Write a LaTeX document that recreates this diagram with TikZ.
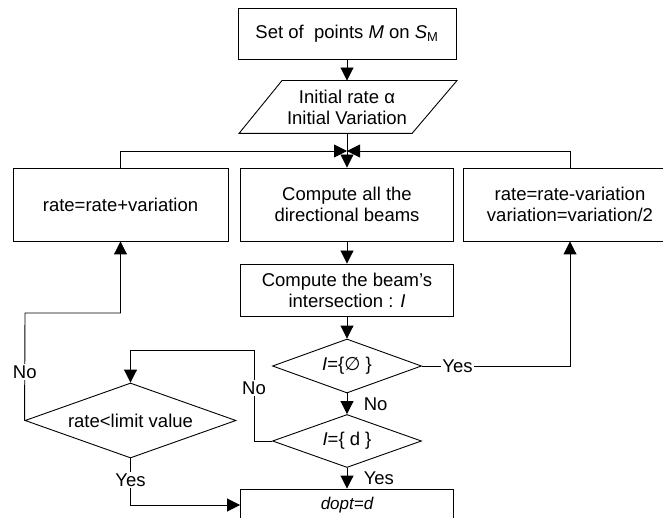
\documentclass[tikz,border=0pt]{standalone}
\usepackage{fontspec}
\setmainfont{Liberation Sans}
\newfontfamily\symbfont{DejaVu Sans}
\usetikzlibrary{arrows.meta,shapes.geometric}

\begin{document}
\begin{tikzpicture}[x=1pt,y=-1pt,
		font=\fontsize{18.5}{21}\selectfont,
		line width=0.9pt,
		box/.style={draw, rectangle, align=center, inner sep=2pt, minimum width=213pt},
		test/.style={draw, diamond, aspect=2.8, inner sep=0pt, align=center},
		arr/.style={-{Triangle[length=13pt,width=13pt]}},
		lbl/.style={fill=white, inner sep=1.5pt}]
		\useasboundingbox (0,0) rectangle (663,518);
		
		\node[box, minimum width=218pt, minimum height=51pt] (pts) at (347,33.5) {Set of\ \ points \textit{M} on \textit{S}\textsubscript{M}};
		\node[minimum height=52pt, align=center] (init) at (347,107) {Initial rate α\\Initial Variation};
		\draw ([xshift=-108pt]init.south) -- ([xshift=-65pt]init.north) -- ([xshift=110pt]init.north) -- ([xshift=65pt]init.south) -- cycle;
		
		\node[box, minimum width=215pt, minimum height=73pt] (incr) at (120.5,204.5) {rate=rate+variation};
		\node[box, minimum height=73pt] (beams) at (347,204.5) {Compute all the\\directional beams};
		\node[box, minimum height=73pt] (decr) at (570,204.5) {rate=rate-variation\\variation=variation/2};
		\node[box, minimum height=52pt] (inter) at (347,290) {Compute the beam's\\intersection : \textit{I}};
		
		\node[test, minimum width=149pt, minimum height=54pt] (empty) at (347,366) {\textit{I}=\{{\symbfont\itshape ∅} \}};
		\node[test, minimum width=149pt, minimum height=53pt] (single) at (347,441) {\textit{I}=\{ d \}};
		\node[test, minimum width=211pt, minimum height=75pt] (limit) at (130.5,420.5) {rate<limit value};
		\node[box, minimum height=32pt] (dopt) at (347,505) {\fontsize{17}{20}\selectfont\itshape dopt=d};
		
		\coordinate (merge) at (347,151);
		\draw[arr] (pts) -- (init);
		\draw[arr] (init) -- (beams);
		\draw[arr] (incr.north) |- (merge);
		\draw[arr] (decr.north) |- (merge);
		\draw[arr] (beams) -- (inter);
		\draw[arr] (inter) -- (empty);
		\draw[arr] (empty) -- node[midway, right=13pt]{No} (single);
		\draw[arr] (single) -- node[midway, right=13pt]{Yes} (dopt);
		\draw[arr] (empty.east) -| node[lbl, pos=0.12]{Yes} (decr.south);
		\draw[arr] (single.west) -- (254,441) -- node[lbl, pos=0.58]{No} (254,350) -| (limit.north);
		\draw[arr] (limit.west) -- node[lbl, pos=0.45]{No} (25,313) -| (incr.south);
		\draw[arr] (limit.south) -- node[lbl, pos=0.47]{Yes} (130.5,505) -- (dopt.west);
		\end{tikzpicture}
\end{document}
